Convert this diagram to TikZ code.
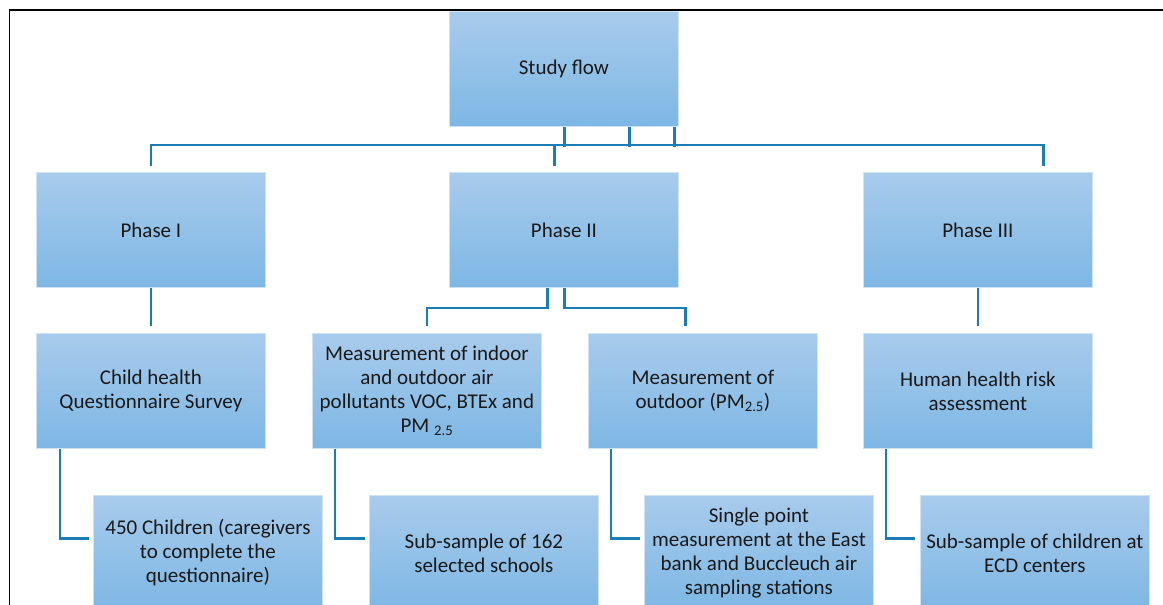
\documentclass[tikz,border=0pt]{standalone}
\usepackage{fontspec}
\setmainfont{Carlito}
\definecolor{boxtop}{HTML}{A8CBEC}
\definecolor{boxbot}{HTML}{7DB7E4}
\definecolor{boxedge}{HTML}{CFE3F5}
\definecolor{conncol}{HTML}{1A7DB4}
\tikzset{
  box/.style={draw=boxedge, line width=0.8pt, top color=boxtop, bottom color=boxbot,
    minimum width=229pt, minimum height=115pt, inner sep=0pt, align=center,
    anchor=north west, text=black!90, font=\fontsize{21}{24}\selectfont},
  conn/.style={draw=conncol, line width=2.6pt},
  frame/.style={draw=black, line width=1.6pt}
}
\begin{document}
\begin{tikzpicture}[x=1pt,y=-1pt]
\useasboundingbox (0,0) rectangle (1163,605);
\clip (0,0) rectangle (1163,605);
% frame
\draw[frame] (9.5,606) -- (9.5,10) -- (1164,10);
% nodes
\node[box] (sf) at (449,11) {Study flow};
\node[box] (p1) at (36,172) {Phase I};
\node[box] (p2) at (449,172) {Phase II};
\node[box] (p3) at (863,172) {Phase III};
\node[box] (c1) at (36,333) {Child health\\Questionnaire Survey};
\node[box] (c2) at (312,333) {Measurement of indoor\\and outdoor air\\pollutants VOC, BTEx and\\PM \textsubscript{2.5}};
\node[box] (c3) at (588,333) {Measurement of\\outdoor (PM\textsubscript{2.5})};
\node[box] (c4) at (863,333) {Human health risk\\assessment};
\node[box] (d1) at (93,495) {450 Children (caregivers\\to complete the\\questionnaire)};
\node[box] (d2) at (369,495) {Sub-sample of 162\\selected schools};
\node[box] (d3) at (644,495) {Single point\\measurement at the East\\bank and Buccleuch air\\sampling stations};
\node[box] (d4) at (920,495) {Sub-sample of children at\\ECD centers};
% study flow to phases
\draw[conn] ([xshift=0.5pt]sf.south) -- ++(0,20);
\draw[conn] ([xshift=65.5pt]sf.south) -- ++(0,20);
\draw[conn] ([xshift=110.5pt]sf.south) -- ++(0,20);
\draw[conn] ([yshift=6pt]p1.north) |- ([xshift=65.5pt,yshift=27pt]p3.north) -- ([xshift=65.5pt,yshift=6pt]p3.north);
\draw[conn] ([xshift=-9.5pt,yshift=6pt]p2.north) -- ++(0,-21);
% phases to level 3
\draw[conn] (p1.south) -- ([yshift=7pt]c1.north);
\draw[conn] ([xshift=-16.5pt]p2.south) -- ++(0,20) -| ([yshift=7pt]c2.north);
\draw[conn] ([xshift=0.5pt]p2.south) -- ++(0,20) -| ([xshift=-17.5pt,yshift=7pt]c3.north);
\draw[conn] (p3.south) -- ([yshift=7pt]c4.north);
% level 3 to level 4
\draw[conn] ([xshift=24pt]c1.south west) |- ([xshift=-4pt,yshift=14.5pt]d1.west);
\draw[conn] ([xshift=23pt]c2.south west) |- ([xshift=-4pt,yshift=14.5pt]d2.west);
\draw[conn] ([xshift=23pt]c3.south west) |- ([xshift=-4pt,yshift=14.5pt]d3.west);
\draw[conn] ([xshift=23pt]c4.south west) |- ([xshift=-5pt,yshift=14.5pt]d4.west);
\end{tikzpicture}
\end{document}
